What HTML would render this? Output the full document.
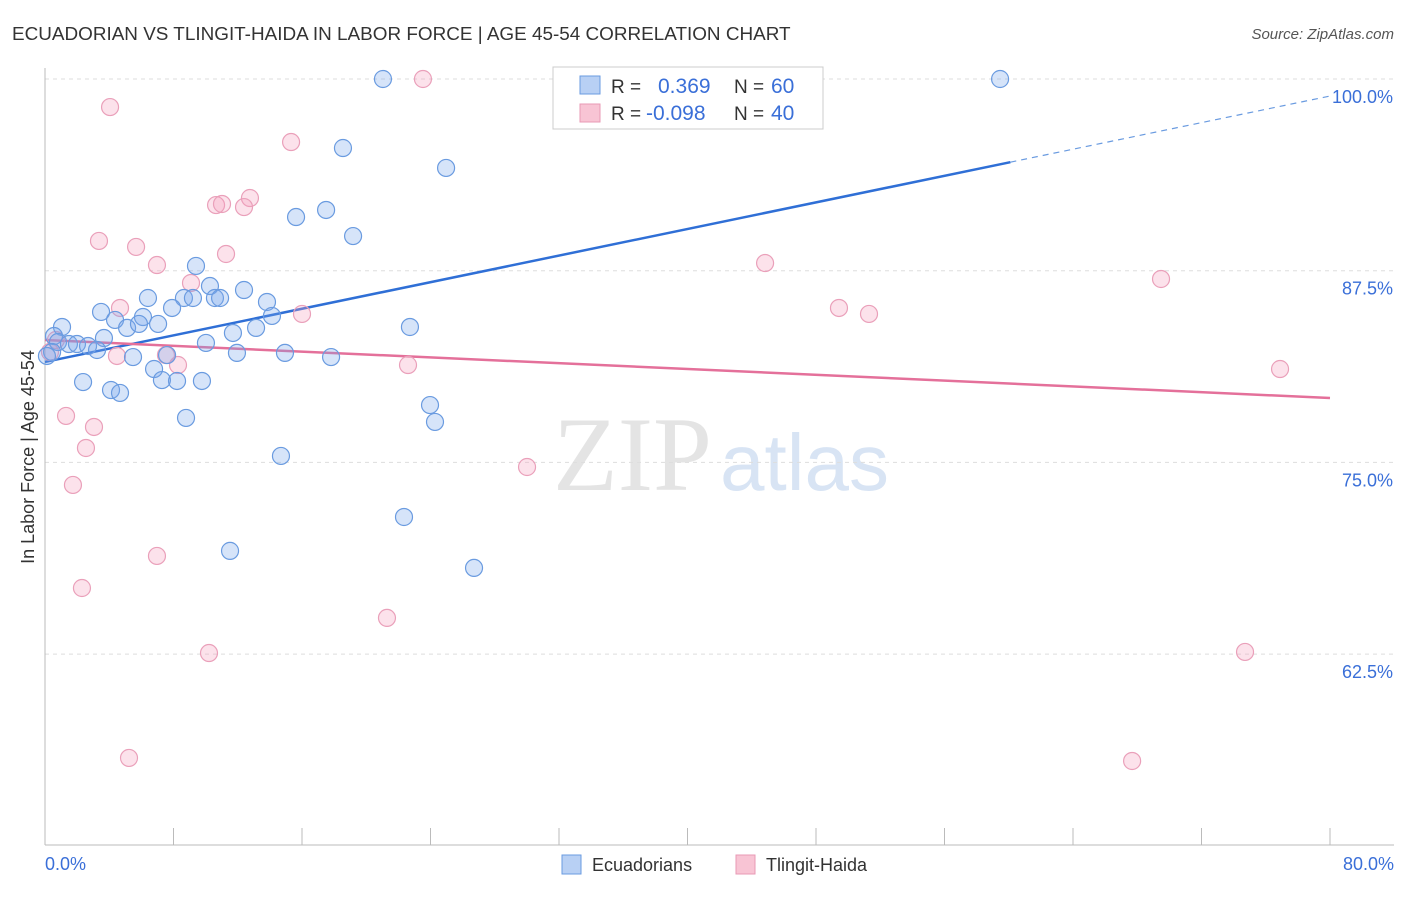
<!DOCTYPE html>
<html><head><meta charset="utf-8"><style>
body{margin:0;background:#fff;font-family:"Liberation Sans",sans-serif;}
svg text{font-family:"Liberation Sans",sans-serif;}
</style></head><body>
<svg id="chart" width="1406" height="892">
<text x="12" y="40" font-size="18.9" fill="#333">ECUADORIAN VS TLINGIT-HAIDA IN LABOR FORCE | AGE 45-54 CORRELATION CHART</text>
<text x="1394" y="39" font-size="15" fill="#555" text-anchor="end" font-style="italic">Source: ZipAtlas.com</text>
<text x="553" y="490" font-size="106" fill="#e4e4e4" style="font-family:'Liberation Serif',serif">ZIP</text>
<text x="720" y="490" font-size="80" fill="#d8e4f4">atlas</text>
<text transform="translate(34,457) rotate(-90)" font-size="18" fill="#333" text-anchor="middle">In Labor Force | Age 45-54</text>
<g id="grid"></g><g id="axes"></g><g id="lines"></g><g id="points"></g>
<g>
<rect x="553" y="67" width="270" height="62" fill="#fff" stroke="#ccc"/>
<rect x="580" y="76" width="20" height="18" fill="#b8d0f4" stroke="#6a9be0"/>
<text x="611" y="93" font-size="19" fill="#333">R =</text><text x="658" y="93" font-size="21" fill="#3a6fd8">0.369</text>
<text x="734" y="93" font-size="19" fill="#333">N =</text><text x="771" y="93" font-size="21" fill="#3a6fd8">60</text>
<rect x="580" y="104" width="20" height="18" fill="#f8c4d4" stroke="#e89ab5"/>
<text x="611" y="120" font-size="19" fill="#333">R =</text><text x="646" y="120" font-size="21" fill="#3a6fd8">-0.098</text>
<text x="734" y="120" font-size="19" fill="#333">N =</text><text x="771" y="120" font-size="21" fill="#3a6fd8">40</text>
</g>
<g>
<rect x="562" y="855" width="19" height="19" fill="#b8d0f4" stroke="#6a9be0"/>
<text x="592" y="871" font-size="18" fill="#333">Ecuadorians</text>
<rect x="736" y="855" width="19" height="19" fill="#f8c4d4" stroke="#e89ab5"/>
<text x="766" y="871" font-size="18" fill="#333">Tlingit-Haida</text>
</g>
<text x="45" y="870" font-size="18" fill="#3a6fd8">0.0%</text>
<text x="1394" y="870" font-size="18" fill="#3a6fd8" text-anchor="end">80.0%</text>
</svg>
<script>
const blueX=[21.04,59.46,18.55,24.97,15.63,17.50,19.18,9.40,10.27,12.39,8.65,9.21,10.58,10.90,6.41,13.82,3.49,7.91,6.10,4.36,14.13,1.06,5.11,5.85,7.04,13.14,11.70,22.72,0.56,3.67,0.81,1.49,1.99,2.68,3.24,0.44,0.12,10.02,11.95,14.94,17.81,5.48,7.60,6.79,7.28,8.22,2.37,9.77,4.11,4.67,23.97,24.28,8.78,14.69,22.35,11.52,26.71];
const blueY=[100,100,95.50,94.20,91.00,91.46,89.76,87.81,86.50,86.24,85.72,85.72,85.72,85.72,85.72,85.46,84.81,85.07,84.48,84.29,84.55,83.83,83.77,84.03,84.03,83.77,83.44,83.83,83.24,83.11,82.85,82.72,82.72,82.59,82.33,82.20,81.94,82.79,82.14,82.14,81.87,81.87,82.00,81.09,80.37,80.31,80.24,80.31,79.72,79.53,78.74,77.64,77.90,75.42,71.44,69.23,68.12];
const pinkX=[4.05,23.53,36.61,15.32,12.76,10.65,11.02,12.39,3.36,5.67,11.27,6.97,9.09,4.67,16.00,44.83,49.43,51.30,69.48,76.89,0.31,0.68,4.48,7.53,8.28,22.60,1.31,3.05,2.55,1.74,30.01,6.97,2.30,21.29,10.21,74.71,5.23,67.68];
const pinkY=[98.17,100,100,95.89,92.24,91.78,91.85,91.65,89.44,89.05,88.59,87.87,86.70,85.07,84.68,88.00,85.07,84.68,86.96,81.09,82.20,82.98,81.94,82.00,81.35,81.35,78.03,77.31,75.94,73.53,74.70,68.90,66.81,64.86,62.57,62.64,55.73,55.53];
const blueTrend=[81.55,98.89];
const pinkTrend=[82.98,79.20];
const yTicks=[100,87.5,75,62.5];
const yTickLabels=["100.0%","87.5%","75.0%","62.5%"];
const xTicks=[0,8,16,24,32,40,48,56,64,72,80];
const NS="http://www.w3.org/2000/svg";
const sx=v=>45+v/80*1285;
const sy=v=>79+(100-v)/12.5*191.7;
function mk(tag,attrs,parent){const e=document.createElementNS(NS,tag);for(const k in attrs)e.setAttribute(k,attrs[k]);document.getElementById(parent).appendChild(e);return e;}
yTicks.forEach((t,i)=>{
 const g=mk('line',{x1:45,x2:1394,y1:sy(t),y2:sy(t),stroke:'#ddd','stroke-dasharray':'4,4'},'grid');
 
 
 const tx=mk('text',{x:1393,y:sy(t)+24,'font-size':18,fill:'#3a6fd8','text-anchor':'end'},'grid');
 tx.textContent=yTickLabels[i];
 
 
});
const ax=mk('line',{x1:45,x2:45,y1:68,y2:845,stroke:'#bbb'},'axes');


const bx=mk('line',{x1:45,x2:1394,y1:845,y2:845,stroke:'#bbb'},'axes');


xTicks.forEach(t=>{
 const l=mk('line',{x1:sx(t),x2:sx(t),y1:828,y2:845,stroke:'#bbb'},'axes');
 
 
});
const bxSplit=60.1;
const bl1=mk('line',{x1:sx(0),y1:sy(blueTrend[0]),x2:sx(bxSplit),y2:sy(blueTrend[0]+(blueTrend[1]-blueTrend[0])*bxSplit/80),stroke:'#2f6fd6','stroke-width':2.5},'lines');


const bl2=mk('line',{x1:sx(bxSplit),y1:sy(blueTrend[0]+(blueTrend[1]-blueTrend[0])*bxSplit/80),x2:sx(80),y2:sy(blueTrend[1]),stroke:'#6a9be0','stroke-width':1.2,'stroke-dasharray':'6,5'},'lines');


const pl=mk('line',{x1:sx(0),y1:sy(pinkTrend[0]),x2:sx(80),y2:sy(pinkTrend[1]),stroke:'#e4709a','stroke-width':2.5},'lines');


pinkX.forEach((x,i)=>{
 const c=mk('circle',{cx:sx(x),cy:sy(pinkY[i]),r:8.5,fill:'rgba(244,160,190,0.3)',stroke:'#eaa0ba','stroke-width':1.2},'points');
 
 
});
blueX.forEach((x,i)=>{
 const c=mk('circle',{cx:sx(x),cy:sy(blueY[i]),r:8.5,fill:'rgba(120,165,235,0.3)',stroke:'#6a9be0','stroke-width':1.2},'points');
 
 
});
</script>
</body></html>
